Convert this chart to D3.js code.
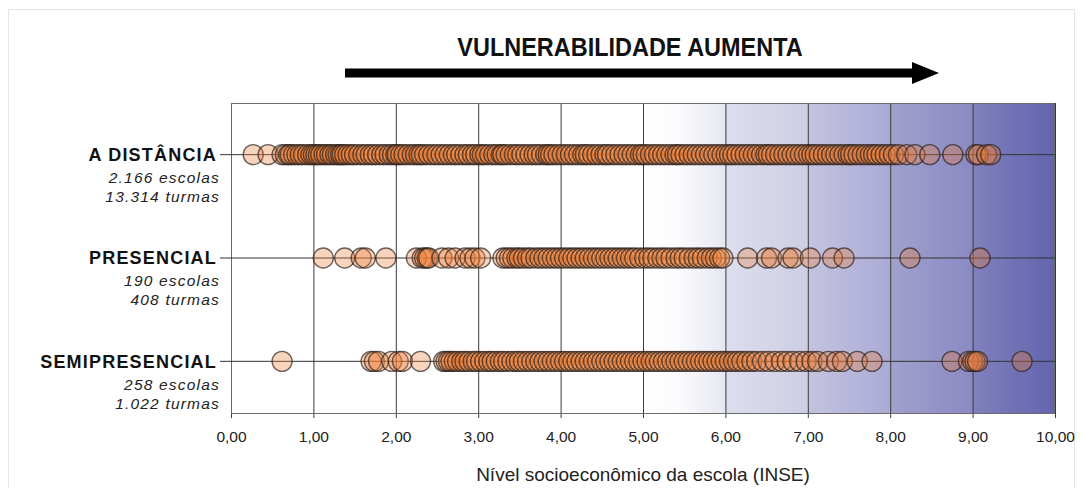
<!DOCTYPE html>
<html>
<head>
<meta charset="utf-8">
<script src="https://cdn.jsdelivr.net/npm/d3@7"></script>
<style>
  html, body { margin: 0; padding: 0; background: #fff; }
  svg { display: block; font-family: "Liberation Sans", Arial, sans-serif; }
</style>
</head>
<body>
<div class="container"></div>
<script>
// categories (top to bottom)
const categories = ["A DISTÂNCIA", "PRESENCIAL", "SEMIPRESENCIAL"];
const escolas = ["2.166 escolas", "190 escolas", "258 escolas"];
const turmas = ["13.314 turmas", "408 turmas", "1.022 turmas"];

// INSE of schools
const distancia = [0.27, 0.45, 0.62, 0.66, 0.7, 0.72, 0.76, 0.8, 0.84, 0.88, 0.93, 0.97, 1.0, 1.03, 1.06,
  1.09, 1.13, 1.16, 1.2, 1.23, 1.27, 1.3, 1.33, 1.35, 1.38, 1.42, 1.46, 1.5, 1.55, 1.6, 1.64, 1.69, 1.73,
  1.78, 1.83, 1.87, 1.92, 1.96, 2.0, 2.02, 2.06, 2.1, 2.15, 2.2, 2.24, 2.28, 2.31, 2.35, 2.4, 2.45, 2.5,
  2.55, 2.6, 2.65, 2.7, 2.74, 2.79, 2.84, 2.88, 2.93, 2.97, 3.02, 3.05, 3.09, 3.14, 3.19, 3.23, 3.28, 3.3,
  3.34, 3.39, 3.44, 3.48, 3.53, 3.58, 3.63, 3.68, 3.72, 3.77, 3.82, 3.85, 3.88, 3.92, 3.97, 4.02, 4.07,
  4.12, 4.17, 4.22, 4.27, 4.3, 4.34, 4.39, 4.44, 4.49, 4.54, 4.57, 4.62, 4.67, 4.72, 4.77, 4.82, 4.87,
  4.92, 4.97, 5.0, 5.04, 5.09, 5.14, 5.19, 5.24, 5.29, 5.34, 5.39, 5.42, 5.46, 5.51, 5.56, 5.61, 5.66,
  5.71, 5.76, 5.81, 5.86, 5.91, 5.96, 6.01, 6.05, 6.09, 6.14, 6.19, 6.24, 6.29, 6.34, 6.39, 6.44, 6.49,
  6.52, 6.56, 6.61, 6.66, 6.71, 6.76, 6.81, 6.86, 6.91, 6.96, 7.01, 7.05, 7.09, 7.14, 7.19, 7.24, 7.29,
  7.34, 7.39, 7.44, 7.49, 7.52, 7.56, 7.61, 7.66, 7.71, 7.76, 7.8, 7.84, 7.89, 7.94, 7.99, 8.04, 8.1,
  8.2, 8.3, 8.48, 8.76, 9.04, 9.07, 9.17, 9.22];
const presencial = [1.12, 1.38, 1.58, 1.63, 1.88, 2.25, 2.32, 2.35, 2.38, 2.4, 2.56, 2.64, 2.72, 2.84, 2.9,
  2.96, 3.03, 3.3, 3.34, 3.38, 3.42, 3.47, 3.5, 3.55, 3.6, 3.64, 3.7, 3.75, 3.8, 3.85, 3.9, 3.95, 4.0, 4.05,
  4.1, 4.15, 4.2, 4.25, 4.3, 4.35, 4.4, 4.45, 4.5, 4.55, 4.6, 4.65, 4.7, 4.75, 4.8, 4.85, 4.9, 4.96, 5.02,
  5.07, 5.12, 5.18, 5.23, 5.28, 5.34, 5.4, 5.45, 5.5, 5.56, 5.62, 5.67, 5.72, 5.78, 5.83, 5.88, 5.93, 5.97,
  6.27, 6.5, 6.56, 6.76, 6.82, 7.03, 7.3, 7.44, 8.24, 9.09];
const semipresencial = [0.62, 1.7, 1.74, 1.79, 1.95, 2.03, 2.08, 2.3, 2.58, 2.61, 2.64, 2.67, 2.71, 2.75,
  2.8, 2.84, 2.89, 2.94, 2.98, 3.03, 3.08, 3.13, 3.17, 3.22, 3.27, 3.31, 3.36, 3.41, 3.46, 3.5, 3.55, 3.6,
  3.65, 3.7, 3.75, 3.8, 3.85, 3.9, 3.95, 4.0, 4.05, 4.1, 4.15, 4.2, 4.25, 4.3, 4.35, 4.4, 4.45, 4.5, 4.55,
  4.6, 4.65, 4.7, 4.75, 4.8, 4.85, 4.9, 4.95, 5.0, 5.05, 5.1, 5.15, 5.2, 5.25, 5.3, 5.35, 5.4, 5.45, 5.5,
  5.55, 5.6, 5.65, 5.7, 5.75, 5.8, 5.85, 5.9, 5.95, 6.0, 6.05, 6.1, 6.15, 6.2, 6.26, 6.32, 6.38, 6.45, 6.52,
  6.6, 6.68, 6.75, 6.82, 6.9, 6.98, 7.05, 7.12, 7.25, 7.35, 7.42, 7.6, 7.78, 8.75, 8.95, 9.0, 9.03, 9.06,
  9.6];

const xTicks = [0, 1, 2, 3, 4, 5, 6, 7, 8, 9, 10];

// background shade: INSE value -> colour
const shadeStops = [
  [5.0, "#ffffff"], [5.4, "#fcfcfe"], [6.0, "#e6e7f2"], [6.01, "#dcdded"], [7.0, "#cdcee4"],
  [7.01, "#c3c3e0"], [8.0, "#abaad6"], [8.01, "#a1a1ce"], [9.0, "#8a89c3"], [9.01, "#8080bc"],
  [10.0, "#6264ae"]
];

const width = 1082, height = 488;
const margin = {top: 103, right: 27, bottom: 75, left: 231};
const plotW = width - margin.left - margin.right,
      plotH = height - margin.top - margin.bottom;

const svg = d3.select('.container')
  .append('svg')
  .attr('width', width)
  .attr('height', height);

// faint frame around the figure
svg.append('rect')
  .attr('x', 8.5).attr('y', 9.5)
  .attr('width', 1066).attr('height', 520)
  .attr('fill', 'none')
  .attr('stroke', '#e6e6e6');

const x = d3.scaleLinear().domain([0, 10]).range([0, plotW]);
const y = d3.scalePoint().domain(categories).range([0, plotH]).padding(0.5);

const g = svg.append('g')
  .attr('transform', `translate(${margin.left},${margin.top})`);

// gradient
const grad = svg.append('defs').append('linearGradient')
  .attr('id', 'vuln')
  .attr('gradientUnits', 'userSpaceOnUse')
  .attr('x1', x(0)).attr('x2', x(10))
  .attr('y1', 0).attr('y2', 0);
grad.selectAll('stop')
  .data(shadeStops)
  .enter().append('stop')
  .attr('offset', d => d[0] / 10)
  .attr('stop-color', d => d[1]);

g.append('rect')
  .attr('width', plotW).attr('height', plotH)
  .attr('fill', 'url(#vuln)');

// x axis with full-height grid lines
const loc = d3.formatLocale({decimal: ",", thousands: ".", grouping: [3], currency: ["R$", ""]});
const xAxis = d3.axisBottom(x)
  .tickValues(xTicks)
  .tickFormat(loc.format(".2f"))
  .tickSizeInner(-(plotH + 5))
  .tickSizeOuter(0)
  .tickPadding(13);

const ax = g.append('g')
  .attr('transform', `translate(0,${plotH + 5})`)
  .call(xAxis);
ax.select('.domain').remove();
ax.selectAll('.tick line').attr('stroke', '#3a3a3a');
ax.selectAll('.tick text')
  .attr('fill', '#222')
  .style('font-size', '15.5px')
  .style('font-family', '"Liberation Sans", Arial, sans-serif');

// plot frame
g.append('rect')
  .attr('x', 0.5).attr('y', 0.5)
  .attr('width', plotW - 1).attr('height', plotH)
  .attr('fill', 'none')
  .attr('stroke', '#6a6a6a');

// row lines
g.selectAll('.row-line')
  .data(categories)
  .enter().append('line')
  .attr('class', 'row-line')
  .attr('x1', -11).attr('x2', plotW)
  .attr('y1', d => y(d)).attr('y2', d => y(d))
  .attr('stroke', '#333');

// dots
const series = [distancia, presencial, semipresencial];
series.forEach((vals, i) => {
  g.append('g')
    .selectAll('circle')
    .data(vals)
    .enter().append('circle')
    .attr('cx', d => x(d))
    .attr('cy', y(categories[i]))
    .attr('r', 10)
    .attr('fill', '#ee7c34')
    .attr('fill-opacity', 0.33)
    .attr('stroke', '#2e2420')
    .attr('stroke-opacity', 0.7)
    .attr('stroke-width', 1.4);
});

// row labels
const lab = g.selectAll('.lab')
  .data(categories)
  .enter().append('g')
  .attr('class', 'lab')
  .attr('transform', d => `translate(-14,${y(d)})`);
lab.append('text')
  .attr('text-anchor', 'end')
  .attr('dy', '0.35em')
  .attr('fill', '#111')
  .style('font-size', '18px')
  .style('font-weight', 'bold')
  .style('letter-spacing', '1.2px')
  .text(d => d);
lab.append('text')
  .attr('x', 3)
  .attr('y', 23)
  .attr('text-anchor', 'end')
  .attr('dy', '0.35em')
  .attr('fill', '#222')
  .style('font-size', '15.5px')
  .style('font-style', 'italic')
  .style('letter-spacing', '1.2px')
  .text((d, i) => escolas[i]);
lab.append('text')
  .attr('x', 3)
  .attr('y', 42)
  .attr('text-anchor', 'end')
  .attr('dy', '0.35em')
  .attr('fill', '#222')
  .style('font-size', '15.5px')
  .style('font-style', 'italic')
  .style('letter-spacing', '1.2px')
  .text((d, i) => turmas[i]);

// axis title
svg.append('text')
  .attr('x', margin.left + x(5))
  .attr('y', 481)
  .attr('text-anchor', 'middle')
  .attr('fill', '#222')
  .style('font-size', '19px')
  .text('Nível socioeconômico da escola (INSE)');

// heading + arrow
svg.append('text')
  .attr('transform', 'translate(630,56) scale(0.92,1)')
  .attr('text-anchor', 'middle')
  .attr('fill', '#111')
  .style('font-size', '25.5px')
  .style('font-weight', 'bold')
  .text('VULNERABILIDADE AUMENTA');

const ay = 73;
svg.append('path')
  .attr('d', `M345,${ay - 4.5} L912,${ay - 4.5} L912,${ay - 11} L939,${ay} L912,${ay + 11} L912,${ay + 4.5} L345,${ay + 4.5} Z`)
  .attr('fill', '#000');
</script>
</body>
</html>
